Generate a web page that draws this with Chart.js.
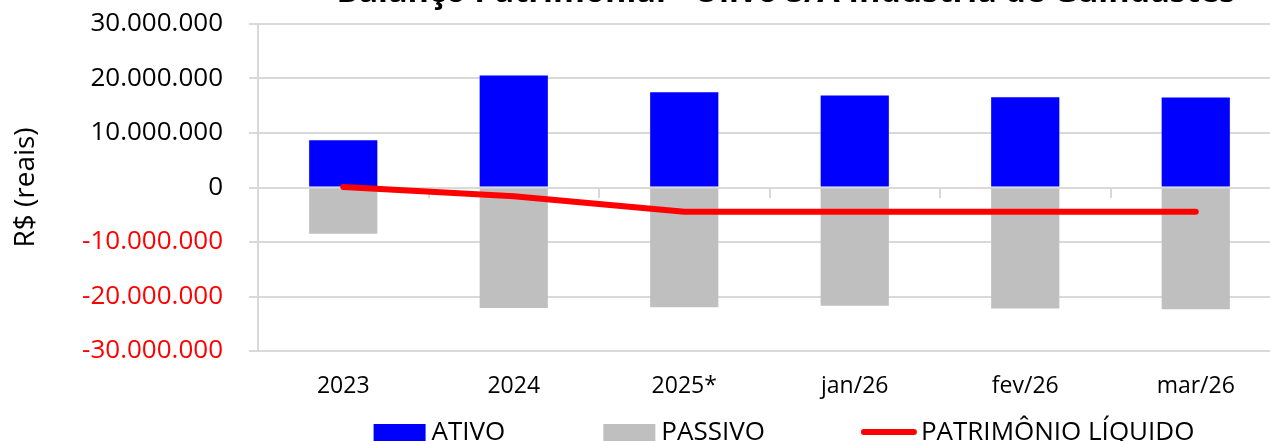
<!DOCTYPE html>
<html>
<head>
<meta charset="utf-8">
<script src="https://cdn.jsdelivr.net/npm/chart.js@4.4.1/dist/chart.umd.min.js"></script>
<style>
  html, body { margin: 0; padding: 0; background: #ffffff; overflow: hidden; width: 1270px; height: 441px; }
  #wrap { position: absolute; left: 0; top: -27px; width: 1562px; height: 500px; }
</style>
</head>
<body>
<div id="wrap"><canvas id="c" width="1562" height="500"></canvas></div>
<script>
const categories = ['2023', '2024', '2025*', 'jan/26', 'fev/26', 'mar/26'];
const ativo = [8660000, 20570000, 17500000, 16900000, 16550000, 16500000];
const passivo = [-8500000, -22100000, -21950000, -21700000, -22200000, -22350000];
const patrimonioLiquido = [100000, -1600000, -4470000, -4470000, -4470000, -4470000];
const yTicks = [-30000000, -20000000, -10000000, 0, 10000000, 20000000, 30000000];

const FONT = '"Open Sans", "Liberation Sans", sans-serif';
const GRID = '#d9d9d9';

function fmt(v) {
  const s = String(Math.abs(Math.round(v))).replace(/\B(?=(\d{3})+(?!\d))/g, '.');
  return (v < 0 ? '-' : '') + s;
}

// centre the title box on x = 786 (the reference's title centre)
const titleShift = {
  id: 'titleShift',
  afterLayout(chart) {
    const t = chart.titleBlock;
    if (t) { t.left = 0; t.right = 1572; t.width = 1572; }
  }
};

const legendPlugin = {
  id: 'customLegend',
  afterDraw(chart) {
    const ctx = chart.ctx;
    ctx.save();
    ctx.font = '26px ' + FONT;
    ctx.textBaseline = 'middle';
    ctx.textAlign = 'left';
    const sw = 52, gap = 6, spacing = 98;
    const items = chart.data.datasets.map(ds => ({
      text: ds.label,
      color: ds.type === 'line' ? ds.borderColor : ds.backgroundColor,
      isLine: ds.type === 'line',
      w: sw + gap + ctx.measureText(ds.label).width
    }));
    const total = items.reduce((a, it) => a + it.w, 0) + spacing * (items.length - 1);
    let x = (chart.width - total) / 2 + 3;
    const y = chart.chartArea.bottom + 81;
    items.forEach(it => {
      if (it.isLine) {
        ctx.strokeStyle = it.color;
        ctx.lineWidth = 6;
        ctx.lineCap = 'round';
        ctx.beginPath();
        ctx.moveTo(x + 1, y);
        ctx.lineTo(x + sw - 1, y);
        ctx.stroke();
      } else {
        ctx.fillStyle = it.color;
        ctx.fillRect(x, y - 8, sw, 17);
      }
      ctx.fillStyle = '#000000';
      ctx.fillText(it.text, x + sw + gap, y + 1);
      x += it.w + spacing;
    });
    ctx.restore();
  }
};

new Chart(document.getElementById('c'), {
  type: 'bar',
  data: {
    labels: categories,
    datasets: [
      { label: 'ATIVO', data: ativo, backgroundColor: '#0000ff', order: 2,
        barPercentage: 0.4, categoryPercentage: 1.0 },
      { label: 'PASSIVO', data: passivo, backgroundColor: '#bfbfbf', order: 2,
        barPercentage: 0.4, categoryPercentage: 1.0 },
      { label: 'PATRIMÔNIO LÍQUIDO', type: 'line', data: patrimonioLiquido,
        borderColor: '#ff0000', backgroundColor: '#ff0000', borderWidth: 6,
        borderCapStyle: 'round', borderJoinStyle: 'round',
        pointRadius: 0, tension: 0, order: 0 }
    ]
  },
  options: {
    responsive: false,
    animation: false,
    devicePixelRatio: 1,
    layout: { padding: { top: 0, left: 0, right: 281, bottom: 62 } },
    plugins: {
      legend: { display: false },
      tooltip: { enabled: false },
      title: {
        display: true,
        text: 'Balanço Patrimonial - Olivo S/A Indústria de Guindastes',
        color: '#000000',
        font: { family: FONT, size: 32.5, weight: 'bold' },
        padding: { top: 0, bottom: 12 }
      }
    },
    scales: {
      x: {
        stacked: true,
        grid: { display: false, drawTicks: false },
        border: { display: false },
        ticks: { color: '#000000', font: { family: FONT, size: 23 }, padding: 22, maxRotation: 0 },
        afterFit(scale) { scale.height = 60; }
      },
      x2: {
        type: 'category',
        position: { y: 0 },
        offset: true,
        grid: { display: true, drawOnChartArea: false, drawTicks: true, tickLength: 9, offset: true, color: GRID, lineWidth: 2 },
        border: { display: true, color: GRID, width: 2 },
        ticks: { display: false }
      },
      y: {
        stacked: false,
        min: -30000000,
        max: 30000000,
        afterBuildTicks(scale) { scale.ticks = yTicks.map(v => ({ value: v })); },
        grid: { color: GRID, lineWidth: 2, tickLength: 9 },
        border: { display: true, color: GRID, width: 2 },
        ticks: {
          padding: 26,
          font: { family: FONT, size: 26 },
          color: (ctx) => (ctx.tick && ctx.tick.value < 0 ? '#ff0000' : '#000000'),
          callback: (v) => fmt(v)
        },
        title: {
          display: true,
          text: 'R$ (reais)',
          color: '#000000',
          font: { family: FONT, size: 28 },
          padding: { top: 9, bottom: 0 }
        },
        afterFit(scale) { scale.width = 258; }
      }
    }
  },
  plugins: [titleShift, legendPlugin]
});
</script>
</body>
</html>
